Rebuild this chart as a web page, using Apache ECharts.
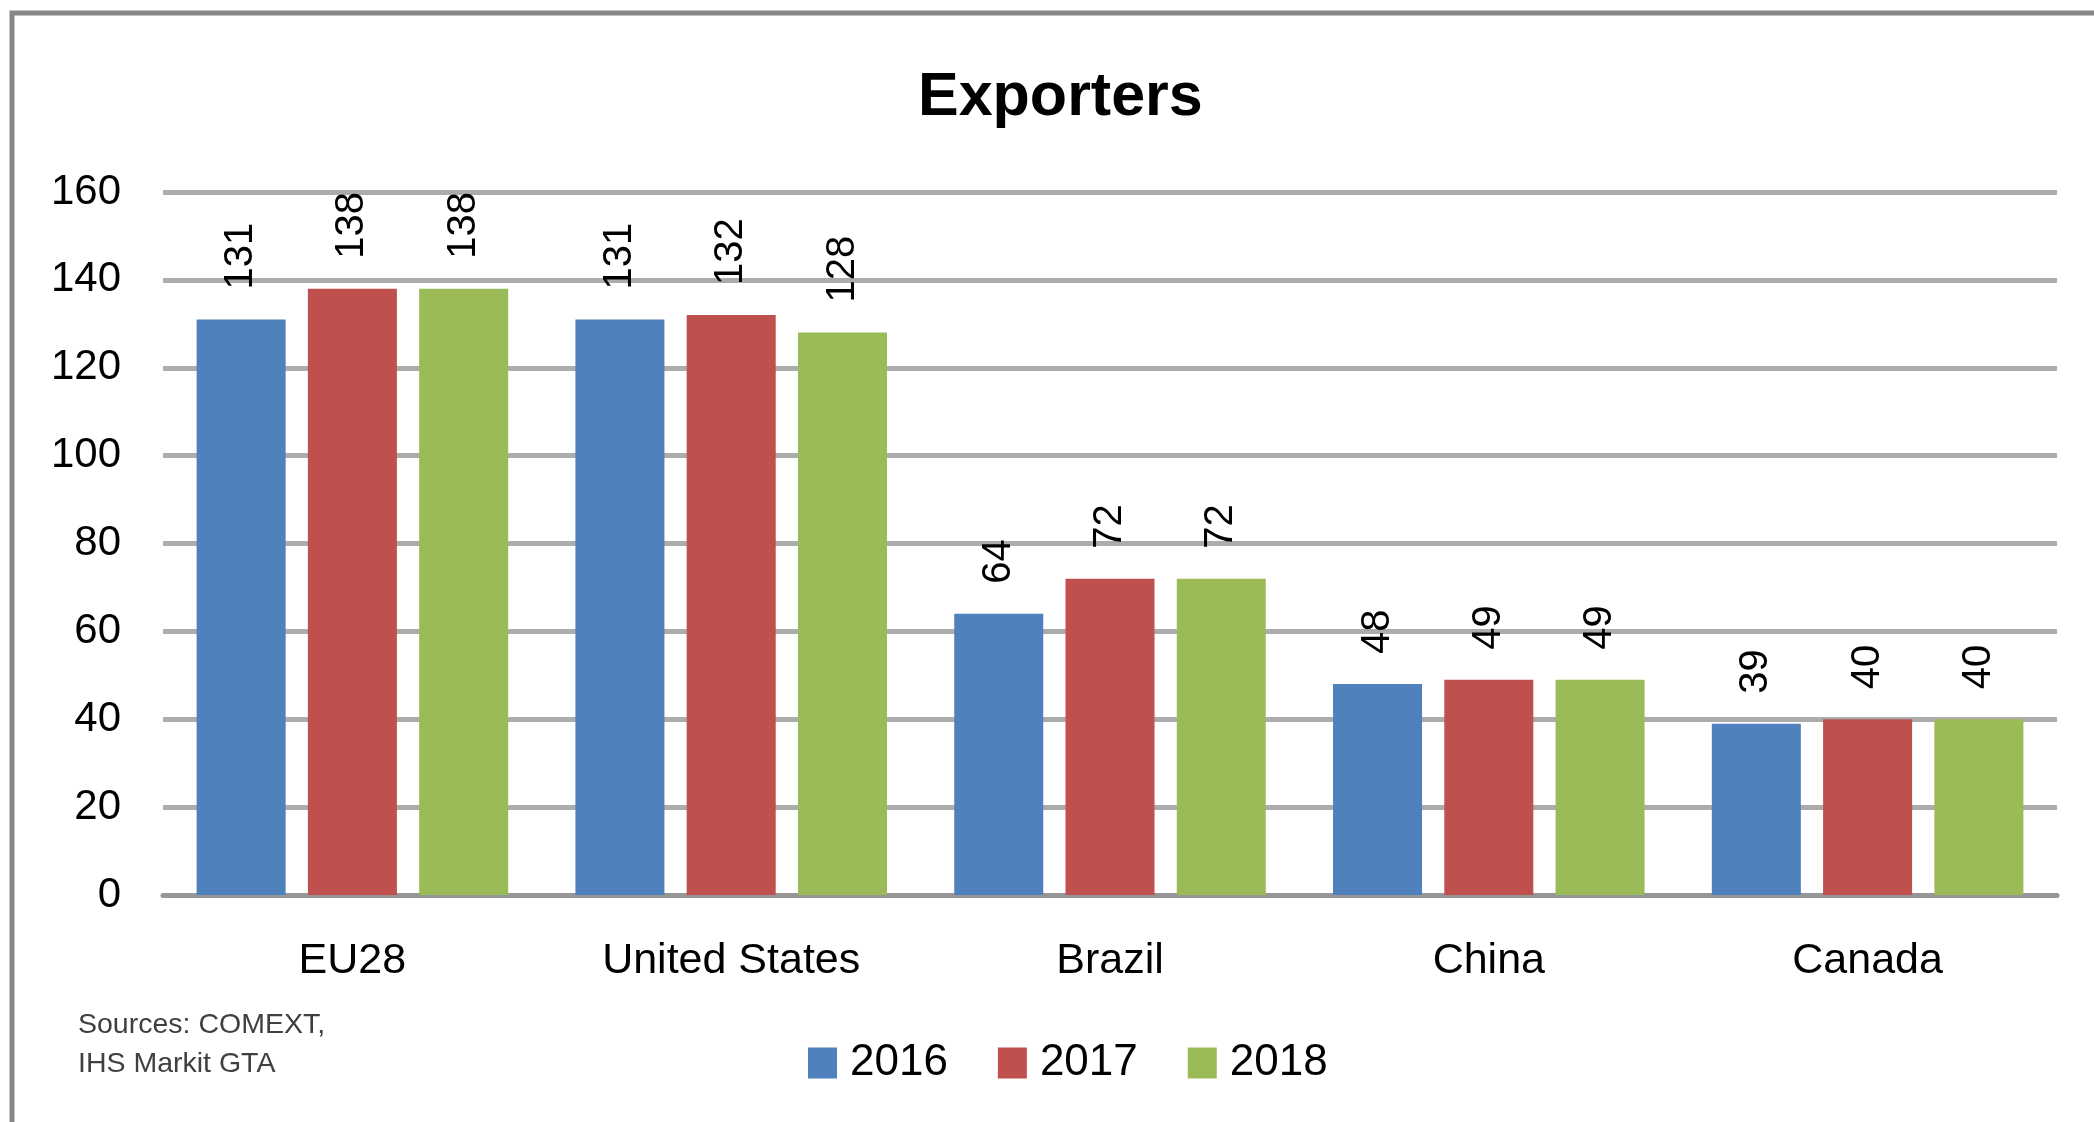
<!DOCTYPE html>
<html>
<head>
<meta charset="utf-8">
<title>Exporters</title>
<script src="https://cdn.jsdelivr.net/npm/echarts@6/dist/echarts.min.js"></script>
<style>
  html, body { margin: 0; padding: 0; background: #fff; }
  #main { width: 2094px; height: 1122px; }
</style>
</head>
<body>
<div id="main"></div>
<script>
// 数据
var countries = ['EU28', 'United States', 'Brazil', 'China', 'Canada'];
var years = ['2016', '2017', '2018'];
var v2016 = [131, 131, 64, 48, 39];
var v2017 = [138, 132, 72, 49, 40];
var v2018 = [138, 128, 72, 49, 40];
var yTicks = [0, 20, 40, 60, 80, 100, 120, 140, 160];
var colors = ['#4F81BD', '#C0504D', '#9BBB59'];

var font = 'Liberation Sans';
var chart = echarts.init(document.getElementById('main'));

// 柱子公用设置
function barSeries(name, data, idx) {
	return {
		name: name,
		type: 'bar',
		data: data,
		barWidth: '23.5%',
		barGap: '25%',
		itemStyle: { color: colors[idx] },
		label: {
			show: true,
			position: 'top',
			rotate: 90,
			align: 'left',
			verticalAlign: 'middle',
			distance: 30,
			fontSize: 40,
			fontFamily: font,
			color: '#000'
		}
	};
}

var option = {
	animation: false,
	backgroundColor: '#fff',
	title: {
		text: 'Exporters',
		left: 913,
		top: 63,
		textStyle: { fontSize: 61, fontWeight: 'bold', fontFamily: font, color: '#000' }
	},
	legend: {
		data: years,
		left: 803,
		top: 1036,
		itemWidth: 29,
		itemHeight: 31,
		itemGap: 50,
		icon: 'rect',
		textStyle: { fontSize: 44, fontFamily: font, color: '#000', padding: [0, 0, 0, 8] }
	},
	grid: { left: 163, right: 37, top: 192, bottom: 227, containLabel: false },
	xAxis: {
		type: 'category',
		data: countries,
		axisTick: { show: false },
		axisLine: { lineStyle: { color: '#969696', width: 5 } },
		axisLabel: { fontSize: 43, fontFamily: font, color: '#000', margin: 45 }
	},
	yAxis: {
		type: 'value',
		min: yTicks[0],
		max: yTicks[yTicks.length - 1],
		interval: 20,
		axisLine: { show: false },
		axisTick: { show: false },
		splitLine: { lineStyle: { color: '#acacac', width: 5 } },
		axisLabel: { fontSize: 42, fontFamily: font, color: '#000', margin: 42 }
	},
	graphic: [
		{
			type: 'rect',
			shape: { x: 12, y: 13, width: 2300, height: 1300 },
			style: { fill: 'none', stroke: '#878787', lineWidth: 5 },
			silent: true
		},
		{
			type: 'text',
			left: 78,
			top: 1006,
			style: {
				text: 'Sources: COMEXT,\nIHS Markit GTA',
				fontSize: 28.5,
				lineHeight: 39,
				fontFamily: font,
				fill: '#404040'
			}
		}
	],
	series: [
		barSeries(years[0], v2016, 0),
		barSeries(years[1], v2017, 1),
		barSeries(years[2], v2018, 2)
	]
};
chart.setOption(option);
</script>
</body>
</html>
